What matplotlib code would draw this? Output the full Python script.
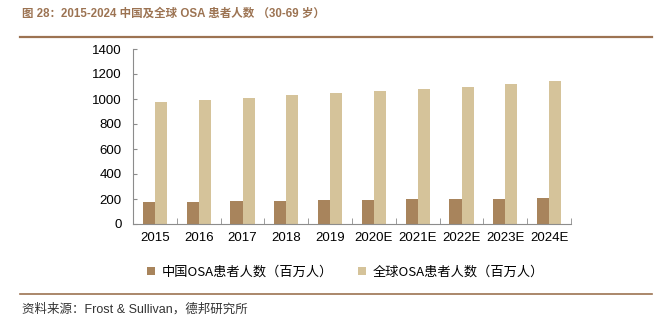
import matplotlib.pyplot as plt
import numpy as np
from matplotlib.lines import Line2D

plt.rcParams['font.family'] = ['Liberation Sans', 'Noto Sans CJK SC']

# === Data ===
years = ["2015", "2016", "2017", "2018", "2019", "2020E", "2021E", "2022E", "2023E", "2024E"]
china = [176, 178, 184, 187, 192, 195, 197, 200, 203, 208]
world = [976, 992, 1005, 1029, 1045, 1064, 1080, 1098, 1120, 1141]
yticks = [0, 200, 400, 600, 800, 1000, 1200, 1400]

C_CHINA = "#A8845C"
C_WORLD = "#D5C39A"
BROWN = "#9C7352"
GRAY = "#8C8C8C"

fig = plt.figure(figsize=(6.59, 3.22), dpi=100)
ax = fig.add_axes([133 / 659, 1 - 224 / 322, 438 / 659, 175 / 322])

x = np.arange(len(years))
w = 0.275
ax.bar(x - w / 2, china, w, color=C_CHINA, label="中国OSA患者人数（百万人）")
ax.bar(x + w / 2, world, w, color=C_WORLD, label="全球OSA患者人数（百万人）")

ax.set_xlim(-0.5, len(years) - 0.5)
ax.set_ylim(0, 1400)
ax.set_yticks(yticks)
ax.set_xticks(x)
ax.set_xticklabels(years)
ax.tick_params(axis="x", length=0, labelsize=9.5, pad=6)
ax.tick_params(axis="y", direction="in", length=3, color=GRAY, labelsize=9.5, pad=8)
# category boundary ticks on the x axis
ax.set_xticks(np.arange(-0.5, len(years)), minor=True)
ax.tick_params(axis="x", which="minor", direction="in", length=4, color=GRAY)

for s in ["top", "right"]:
    ax.spines[s].set_visible(False)
for s in ["left", "bottom"]:
    ax.spines[s].set_color(GRAY)
    ax.spines[s].set_linewidth(0.8)

# legend
leg = ax.legend(loc="upper center", bbox_to_anchor=(0.485, -0.17), ncol=2, frameon=False,
                fontsize=9.5, handlelength=0.6, handleheight=0.6, columnspacing=1.9,
                handletextpad=0.5)
for t in leg.get_texts():
    t.set_family(['Noto Sans CJK SC', 'Liberation Sans'])

# title, rules and source
fig.text(22 / 659, 1 - 14 / 322, "图 28：2015-2024 中国及全球 OSA 患者人数 （30-69 岁）",
         fontsize=8.3, fontweight="bold", color=BROWN, va="center",
         family=['Liberation Sans', 'Noto Sans CJK SC'])
fig.add_artist(Line2D([20 / 659, 652 / 659], [1 - 37 / 322] * 2, color=BROWN, lw=1.6))
fig.add_artist(Line2D([20 / 659, 652 / 659], [1 - 294 / 322] * 2, color=BROWN, lw=1.2))
fig.text(22 / 659, 1 - 309 / 322, "资料来源：Frost & Sullivan，德邦研究所",
         fontsize=9, color="#333333", va="center",
         family=['Liberation Sans', 'Noto Sans CJK SC'])

fig.savefig("out.png", dpi=100)
